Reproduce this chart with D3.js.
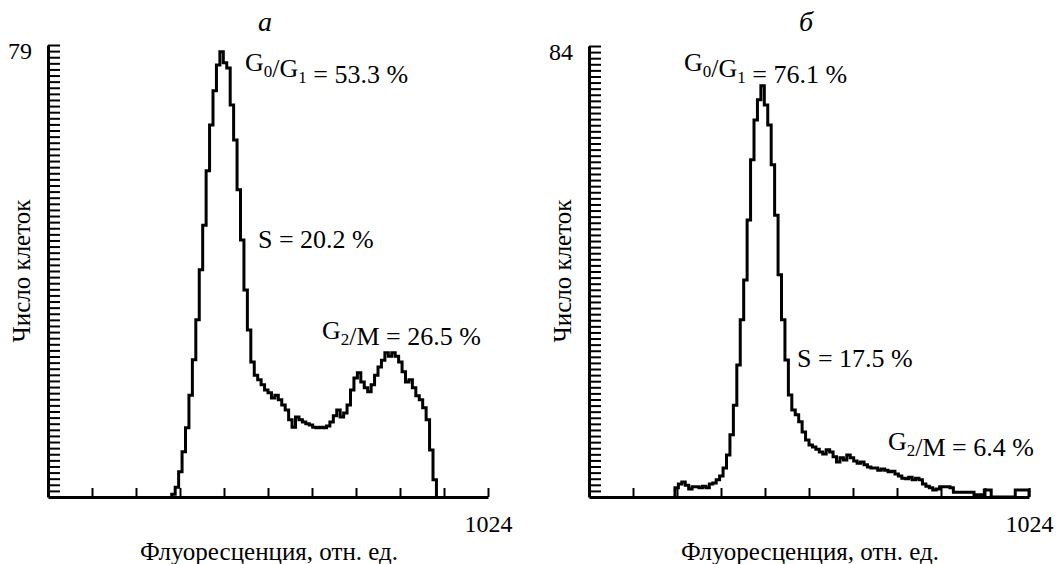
<!DOCTYPE html>
<html>
<head>
<meta charset="utf-8">
<script src="https://cdn.jsdelivr.net/npm/d3@7"></script>
<style>
  body { margin: 0; background: #fff; }
  text { font-family: "Liberation Serif", "Times New Roman", serif; fill: #000; }
</style>
</head>
<body>
<script>
// histogram data: counts per bin of 8 channels (1024 channels total)
const channels = 1024;
const binWidth = 8;

const startA = 36;
const countsA = [0.5, 1.7, 4.4, 7.9, 12.1, 17.8, 24, 31, 39.7, 47.5, 57, 65, 71, 75.5, 77.8, 75.9, 75, 68.5,
  62.4, 53.7, 44.9, 36.2, 29.2, 23.6, 21.3, 20.5, 19.6, 18.7, 18.2, 17.3, 17.8, 17, 16.1, 15.2, 13.5, 12.2,
  14, 13.5, 13.1, 12.8, 12.6, 12.2, 12.1, 12.2, 12.1, 12.4, 13.1, 14.2, 15.2, 14, 14.7, 16.1, 18.7, 20.8,
  21.7, 20.1, 19.1, 18.4, 19.6, 21.3, 22.7, 23.9, 25.2, 24.6, 25.2, 24.6, 23.6, 21.9, 20.1, 20.5, 19.1,
  17.7, 17, 15.6, 13.5, 8.2, 3];

const startB = 25;
const countsB = [1.7, 2.4, 2.8, 2.2, 1.5, 1.9, 1.9, 1.7, 2, 1.7, 2.4, 2.6, 3.2, 3.9, 5.4, 7.8, 11.6, 17.1,
  24.6, 33, 40.4, 51.6, 62.8, 70.2, 74, 76.6, 73, 69.3, 61.9, 52.5, 41.4, 33, 25.5, 19, 16.2, 15.3, 14,
  12.1, 10.6, 9.7, 9.3, 8.9, 8.4, 8, 8.8, 8.4, 7.5, 6.5, 7.3, 6.9, 7.8, 7.3, 6.7, 6.3, 6.5, 6, 5.6, 5.4,
  5.4, 5, 5.2, 5, 4.7, 4.8, 4.3, 3.9, 3.5, 3.4, 3.7, 3.2, 3.5, 3.2, 2.4, 2, 1.7, 1.3, 1.5, 1.9, 1.9, 1.9,
  1.7, 0.9, 0.9, 0.9, 0.9, 0.9, 0.9, 0.4, 0.4, 0.4, 1.3, 1.3, 0, 0, 0, 0, 0, 0, 0, 1.3, 1.3, 1.3, 1.3];

const maxA = 79, maxB = 84;
const titles = ["а", "б"];
const labelsA = ["G_0/G_1 = 53.3 %", "S = 20.2 %", "G_2/M = 26.5 %"];
const labelsB = ["G_0/G_1 = 76.1 %", "S = 17.5 %", "G_2/M = 6.4 %"];
const xLabel = "Флуоресценция, отн. ед.";
const yLabel = "Число клеток";
const yMinorTicks = 74;
const xTickValues = d3.range(1, 11).map(k => k * channels / 10);

const W = 1059, H = 564;
const svg = d3.select("body").append("svg").attr("width", W).attr("height", H);

const panels = [
  { x0: 48, x1: 488, top: 45, start: startA, counts: countsA, max: maxA, title: titles[0], labels: labelsA,
    labelPos: [[245, 71], [258, 248], [322, 339]] },
  { x0: 589, x1: 1029, top: 46, start: startB, counts: countsB, max: maxB, title: titles[1], labels: labelsB,
    labelPos: [[684, 71], [797, 367], [888, 450]] }
];
const baseY = 497;

function addLabel(g, str, x, y) {
  const t = g.append("text").attr("x", x).attr("y", y).style("font-size", "26px");
  // split "G_0" style subscripts
  const parts = str.split(/_(\d)/);
  parts.forEach((p, i) => {
    if (p === "") return;
    if (i % 2 === 1) {
      t.append("tspan").attr("dy", 6).style("font-size", "17px").text(p);
      t.append("tspan").attr("dy", -6).text("");
    } else {
      t.append("tspan").text(p);
    }
  });
}

panels.forEach(p => {
  const g = svg.append("g");
  const x = d3.scaleLinear().domain([0, channels]).range([p.x0, p.x1]);
  const y = d3.scaleLinear().domain([0, p.max]).range([baseY, p.top]);

  // histogram outline
  const pts = [[p.start * binWidth, 0]]
    .concat(p.counts.map((c, i) => [(p.start + i) * binWidth, c]))
    .concat([[(p.start + p.counts.length) * binWidth, 0]]);
  const line = d3.line().x(d => x(d[0])).y(d => y(d[1])).curve(d3.curveStepAfter);
  g.append("path").datum(pts).attr("d", line)
    .attr("fill", "none").attr("stroke", "#000").attr("stroke-width", 3);

  // x axis
  const xAxis = d3.axisBottom(x).tickValues(xTickValues)
    .tickSizeInner(-9).tickSizeOuter(0).tickPadding(18)
    .tickFormat(d => d === channels ? String(channels) : "");
  const gx = g.append("g").attr("transform", `translate(0,${baseY})`).call(xAxis);
  gx.select(".domain").attr("stroke-width", 3);
  gx.selectAll(".tick line").attr("stroke-width", 2);
  gx.selectAll(".tick text").style("font-size", "24px");

  // y axis with minor ticks
  const yTicks = d3.range(1, yMinorTicks + 1).map(k => k * p.max / yMinorTicks);
  const yAxis = d3.axisLeft(y).tickValues(yTicks)
    .tickSizeInner(-12).tickSizeOuter(0).tickPadding(16)
    .tickFormat(d => Math.abs(d - p.max) < 1e-6 ? String(p.max) : "");
  const gy = g.append("g").attr("transform", `translate(${p.x0},0)`).call(yAxis);
  gy.select(".domain").attr("stroke-width", 3);
  gy.selectAll(".tick line").attr("stroke-width", 2);
  gy.selectAll(".tick text").style("font-size", "24px").attr("dy", "0.55em");

  // axis titles
  g.append("text").attr("x", (p.x0 + p.x1) / 2 + 1).attr("y", 560)
    .attr("text-anchor", "middle").style("font-size", "25px").text(xLabel);
  g.append("text").attr("transform", `translate(${p.x0 - 18},271) rotate(-90)`)
    .attr("text-anchor", "middle").style("font-size", "25px").text(yLabel);

  // panel letter
  g.append("text").attr("x", (p.x0 + p.x1) / 2 - 3).attr("y", 31)
    .attr("text-anchor", "middle").style("font-size", "28px").style("font-style", "italic").text(p.title);

  p.labels.forEach((s, i) => addLabel(g, s, p.labelPos[i][0], p.labelPos[i][1]));
});
</script>
</body>
</html>
